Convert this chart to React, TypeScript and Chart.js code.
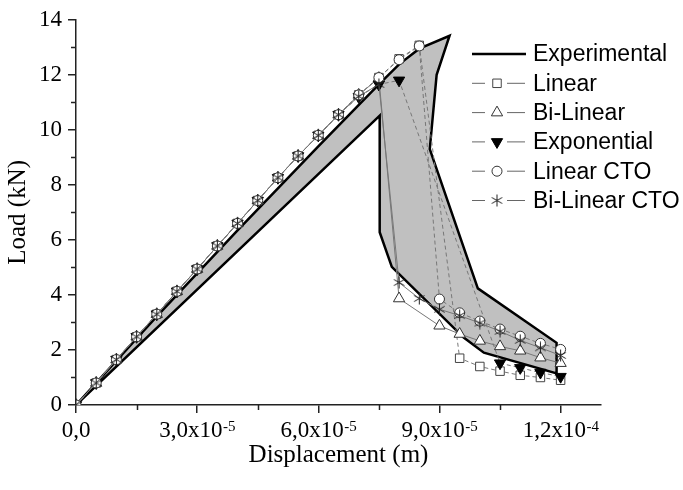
import React, { useEffect, useRef } from 'react';
import { Chart, registerables } from 'chart.js';
import { drawPoint } from 'chart.js/helpers';

Chart.register(...registerables);

// ---------- data ----------
const DISPLACEMENT = [
  0, 5e-6, 1e-5, 1.5e-5, 2e-5, 2.5e-5, 3e-5, 3.5e-5, 4e-5, 4.5e-5, 5e-5, 5.5e-5, 6e-5,
  6.5e-5, 7e-5, 7.5e-5, 8e-5, 8.5e-5, 9e-5, 9.5e-5, 1e-4, 1.05e-4, 1.1e-4, 1.15e-4, 1.2e-4,
];
const LINEAR = [
  0, 0.8, 1.65, 2.48, 3.3, 4.13, 4.94, 5.78, 6.6, 7.43, 8.26, 9.05, 9.8,
  10.55, 11.27, 11.9, 12.58, 13.07, null, 1.7, 1.4, 1.23, 1.08, 1.0, 0.9,
];
const BI_LINEAR = [
  0, 0.8, 1.65, 2.48, 3.3, 4.13, 4.94, 5.78, 6.6, 7.43, 8.26, 9.05, 9.8,
  10.55, 11.27, 11.88, 3.87, null, 2.88, 2.58, 2.33, 2.13, 1.97, 1.72, 1.52,
];
const EXPONENTIAL = [
  0, 0.8, 1.65, 2.48, 3.3, 4.13, 4.94, 5.78, 6.6, 7.43, 8.26, 9.05, 9.8,
  10.55, 11.2, 11.65, 11.8, null, null, null, null, 1.52, 1.35, 1.18, 1.03,
];
const LINEAR_CTO = [
  0, 0.8, 1.65, 2.48, 3.3, 4.13, 4.94, 5.78, 6.6, 7.43, 8.26, 9.05, 9.8,
  10.55, 11.27, 11.9, 12.55, 13.05, 3.85, 3.35, 3.05, 2.76, 2.5, 2.24, 2.02,
];
const BI_LINEAR_CTO = [
  0, 0.8, 1.65, 2.48, 3.3, 4.13, 4.94, 5.78, 6.6, 7.43, 8.26, 9.05, 9.8,
  10.55, 11.22, 11.65, 4.45, 3.87, 3.48, 3.25, 2.98, 2.68, 2.35, 2.08, 1.8,
];
// experimental envelope (closed outline)
const EXP_X = [
  0, 2e-5, 4e-5, 6e-5, 7.5e-5, 8e-5, 8.5e-5, 9.25e-5, 8.93e-5, 8.76e-5, 9.95e-5, 1.19e-4,
  1.19e-4, 1.01e-4, 9.6e-5, 7.82e-5, 7.52e-5, 7.52e-5, 0,
];
const EXP_Y = [
  0, 3.22, 6.35, 9.4, 11.65, 12.38, 12.95, 13.42, 12.0, 9.3, 4.24, 2.26,
  1.15, 1.9, 2.45, 5.02, 6.28, 10.52, 0,
];
const X_TICKS = [0, 3e-5, 6e-5, 9e-5, 1.2e-4];
const X_TICK_BASE = ['0,0', '3,0x10', '6,0x10', '9,0x10', '1,2x10'];
const X_TICK_EXP = ['', '-5', '-5', '-5', '-4'];
const X_MINOR = [1.5e-5, 4.5e-5, 7.5e-5, 1.05e-4];
const Y_MINOR = [1, 3, 5, 7, 9, 11, 13];
const LEGEND_LABELS = ['Experimental', 'Linear', 'Bi-Linear', 'Exponential', 'Linear CTO', 'Bi-Linear CTO'];

const SERIF = '"Liberation Serif", "Times New Roman", serif';
const SANS = '"Liberation Sans", Arial, sans-serif';

const pts = (ys: (number | null)[]) =>
  DISPLACEMENT.map((x, i) => ({ x, y: ys[i] })).filter((p) => p.y !== null) as { x: number; y: number }[];

// six-armed asterisk marker
function makeAsterisk(): HTMLCanvasElement {
  const c = document.createElement('canvas');
  c.width = 13;
  c.height = 13;
  const g = c.getContext('2d')!;
  g.strokeStyle = '#222';
  g.lineWidth = 1;
  g.beginPath();
  g.moveTo(6.5, 0.5);
  g.lineTo(6.5, 12.5);
  g.moveTo(1.3, 3.5);
  g.lineTo(11.7, 9.5);
  g.moveTo(1.3, 9.5);
  g.lineTo(11.7, 3.5);
  g.stroke();
  return c;
}

type Style = {
  pointStyle: any;
  radius: number;
  rotation: number;
  bg: string;
  border: string;
  dash: number[];
};

const extrasPlugin = (styles: Style[]) => ({
  id: 'extras',
  afterDraw(chart: any) {
    const ctx = chart.ctx as CanvasRenderingContext2D;
    const xs = chart.scales.x;
    const ys = chart.scales.y;
    const area = chart.chartArea;
    ctx.save();
    // minor ticks
    ctx.strokeStyle = '#222';
    ctx.lineWidth = 1.5;
    ctx.beginPath();
    X_MINOR.forEach((v) => {
      const px = Math.round(xs.getPixelForValue(v)) + 0.5;
      ctx.moveTo(px, area.bottom);
      ctx.lineTo(px, area.bottom + 5);
    });
    Y_MINOR.forEach((v) => {
      const py = Math.round(ys.getPixelForValue(v)) + 0.5;
      ctx.moveTo(area.left - 5, py);
      ctx.lineTo(area.left, py);
    });
    ctx.stroke();
    // x tick labels with superscript exponent
    ctx.fillStyle = '#000';
    ctx.textBaseline = 'alphabetic';
    ctx.textAlign = 'left';
    X_TICKS.forEach((v, i) => {
      const px = xs.getPixelForValue(v);
      ctx.font = `23px ${SERIF}`;
      const wb = ctx.measureText(X_TICK_BASE[i]).width;
      ctx.font = `15px ${SERIF}`;
      const we = X_TICK_EXP[i] ? ctx.measureText(X_TICK_EXP[i]).width : 0;
      const start = px - (wb + we) / 2;
      ctx.font = `23px ${SERIF}`;
      ctx.fillText(X_TICK_BASE[i], start, area.bottom + 32);
      if (X_TICK_EXP[i]) {
        ctx.font = `15px ${SERIF}`;
        ctx.fillText(X_TICK_EXP[i], start + wb + 0.5, area.bottom + 26);
      }
    });
    // legend
    const lx0 = 472;
    const rowY = (i: number) => 54 + i * 29.3;
    ctx.font = `23px ${SANS}`;
    ctx.textBaseline = 'middle';
    LEGEND_LABELS.forEach((label, i) => {
      const y = rowY(i);
      if (i === 0) {
        ctx.strokeStyle = '#000';
        ctx.lineWidth = 2.5;
        ctx.setLineDash([]);
        ctx.beginPath();
        ctx.moveTo(lx0, y);
        ctx.lineTo(lx0 + 54, y);
        ctx.stroke();
      } else {
        const s = styles[i - 1];
        ctx.strokeStyle = '#666';
        ctx.lineWidth = 1;
        ctx.setLineDash([]);
        ctx.beginPath();
        ctx.moveTo(lx0, y);
        ctx.lineTo(lx0 + 13, y);
        ctx.moveTo(lx0 + 35, y);
        ctx.lineTo(lx0 + 53, y);
        ctx.stroke();
        ctx.fillStyle = s.bg;
        ctx.strokeStyle = s.border;
        ctx.lineWidth = 1;
        drawPoint(ctx, { pointStyle: s.pointStyle, radius: s.radius, rotation: s.rotation, borderWidth: 1 } as any, lx0 + 25, y);
      }
      ctx.fillStyle = '#000';
      ctx.fillText(label, 533, y + 1);
    });
    ctx.restore();
  },
});

export default function App() {
  const ref = useRef<HTMLCanvasElement>(null);
  useEffect(() => {
    if (!ref.current) return;
    Chart.defaults.font.family = SERIF;
    const STYLES: Style[] = [
      { pointStyle: 'rect', radius: 6, rotation: 0, bg: '#fff', border: '#444', dash: [4, 3] },
      { pointStyle: 'triangle', radius: 6.5, rotation: 0, bg: '#fff', border: '#333', dash: [] },
      { pointStyle: 'triangle', radius: 6.5, rotation: 180, bg: '#000', border: '#000', dash: [4, 3] },
      { pointStyle: 'circle', radius: 5, rotation: 0, bg: '#fff', border: '#333', dash: [4, 3] },
      { pointStyle: makeAsterisk(), radius: 6, rotation: 0, bg: '#fff', border: '#222', dash: [] },
    ];
    const SERIES = [LINEAR, BI_LINEAR, EXPONENTIAL, LINEAR_CTO, BI_LINEAR_CTO];
    const datasets: any[] = SERIES.map((ys, i) => ({
      label: LEGEND_LABELS[i + 1],
      data: pts(ys),
      showLine: true,
      borderColor: '#777',
      borderWidth: 1,
      borderDash: STYLES[i].dash,
      pointStyle: STYLES[i].pointStyle,
      pointRadius: STYLES[i].radius,
      pointRotation: STYLES[i].rotation,
      pointBackgroundColor: STYLES[i].bg,
      pointBorderColor: STYLES[i].border,
      pointBorderWidth: 1,
      tension: 0,
      fill: false,
      order: 5 - i,
    }));
    datasets.push({
      label: LEGEND_LABELS[0],
      data: EXP_X.map((x, i) => ({ x, y: EXP_Y[i] })),
      showLine: true,
      borderColor: '#000',
      borderWidth: 2.5,
      backgroundColor: '#c0c0c0',
      fill: 'shape',
      pointRadius: 0,
      tension: 0,
      borderJoinStyle: 'miter',
      order: 20,
    });
    const chart = new Chart(ref.current, {
      type: 'scatter',
      data: { datasets },
      plugins: [extrasPlugin(STYLES)],
      options: {
        responsive: false,
        animation: false,
        devicePixelRatio: 1,
        layout: { padding: { top: 15, right: 82, left: 0, bottom: 0 } },
        plugins: { legend: { display: false }, tooltip: { enabled: false } },
        scales: {
          x: {
            type: 'linear',
            min: 0,
            max: 1.3e-4,
            afterFit: (s: any) => {
              s.height = 85;
            },
            border: { display: true, color: '#222', width: 1.5 },
            grid: { drawOnChartArea: false, drawTicks: true, tickLength: 8, color: '#222', lineWidth: 1.5 },
            ticks: {
              stepSize: 3e-5,
              includeBounds: false,
              maxRotation: 0,
              autoSkip: false,
              color: 'rgba(0,0,0,0)',
              font: { size: 23, family: SERIF },
              callback: (v: any) => {
                const i = X_TICKS.findIndex((t) => Math.abs(t - Number(v)) < 1e-9);
                return i >= 0 ? X_TICK_BASE[i] + X_TICK_EXP[i] : '';
              },
            },
            title: {
              display: true,
              text: 'Displacement (m)',
              color: '#000',
              font: { size: 25, family: SERIF },
              padding: { top: 4, bottom: 20 },
            },
          },
          y: {
            type: 'linear',
            min: 0,
            max: 14,
            afterFit: (s: any) => {
              s.width = 76;
            },
            border: { display: true, color: '#222', width: 1.5 },
            grid: { drawOnChartArea: false, drawTicks: true, tickLength: 8, color: '#222', lineWidth: 1.5 },
            ticks: {
              stepSize: 2,
              padding: 6,
              color: '#000',
              font: { size: 23, family: SERIF },
            },
            title: {
              display: true,
              text: 'Load (kN)',
              color: '#000',
              font: { size: 25, family: SERIF },
              padding: { top: 3, bottom: 0 },
            },
          },
        },
      } as any,
    });
    return () => chart.destroy();
  }, []);
  return (
    <div style={{ position: 'fixed', left: 0, top: 0, width: 683, height: 490, background: '#fff' }}>
      <canvas ref={ref} width={683} height={490} style={{ width: 683, height: 490, display: 'block' }} />
    </div>
  );
}
